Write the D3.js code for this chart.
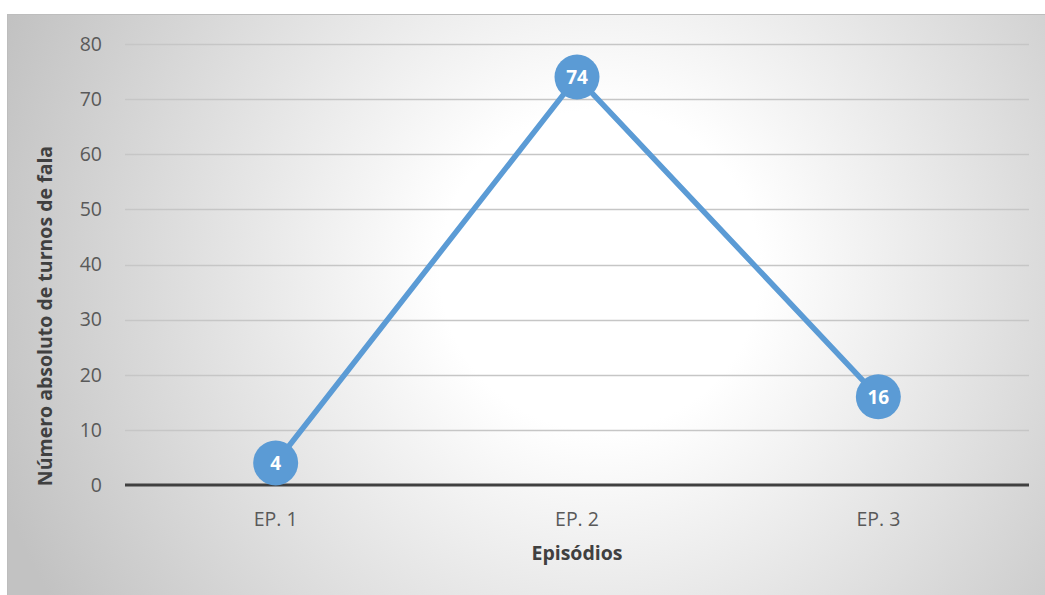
<!DOCTYPE html>
<html><head><meta charset="utf-8">
<script src="https://cdn.jsdelivr.net/npm/d3@7"></script>
<style>html,body{margin:0;padding:0;background:#fff;}svg{display:block;}</style>
</head><body>
<script>
const categories = ["EP. 1", "EP. 2", "EP. 3"];
const values = [4, 74, 16];
const yTicks = [0, 10, 20, 30, 40, 50, 60, 70, 80];
const xTitle = "Episódios";
const yTitle = "Número absoluto de turnos de fala";

(function () {
const W = 1045, H = 595;
const svg = d3.select("body").append("svg").attr("width", W).attr("height", H);
const defs = svg.append("defs");
const rg = defs.append("radialGradient").attr("id", "bg")
  .attr("gradientUnits", "userSpaceOnUse")
  .attr("cx", 600).attr("cy", 270).attr("r", 640);
rg.append("stop").attr("offset", "0%").attr("stop-color", "#ffffff");
rg.append("stop").attr("offset", "25%").attr("stop-color", "#ffffff");
rg.append("stop").attr("offset", "100%").attr("stop-color", "#c2c2c2");

svg.append("rect").attr("x", 7).attr("y", 14).attr("width", W - 7).attr("height", H - 14)
  .attr("fill", "url(#bg)");
svg.append("line").attr("x1", 7).attr("x2", W).attr("y1", 14.5).attr("y2", 14.5)
  .attr("stroke", "#bdbdbd").attr("stroke-width", 1);
svg.append("line").attr("x1", 7.5).attr("x2", 7.5).attr("y1", 14).attr("y2", H)
  .attr("stroke", "#bdbdbd").attr("stroke-width", 1);

const pl = 125, pr = 1029, pt = 44, pb = 485;
const x = d3.scaleBand().domain(categories).range([pl, pr]);
const y = d3.scaleLinear().domain([0, 80]).range([pb, pt]);

const font = "'Open Sans', 'Liberation Sans', sans-serif";

// gridlines
svg.append("g").selectAll("line").data(yTicks.filter(d => d !== 0)).join("line")
  .attr("x1", pl).attr("x2", pr)
  .attr("y1", d => Math.round(y(d)) + 0.5).attr("y2", d => Math.round(y(d)) + 0.5)
  .attr("stroke", "#c6c6c6").attr("stroke-width", 1.3);

// y axis labels
const yAxis = d3.axisLeft(y).tickValues(yTicks).tickSize(0).tickPadding(0).tickFormat(d3.format("d"));
const gy = svg.append("g").attr("transform", `translate(${pl - 23},0)`).call(yAxis);
gy.select(".domain").remove();
gy.selectAll("text").attr("font-family", font).attr("font-size", 19.5).attr("fill", "#595959");

// zero line
svg.append("line").attr("x1", pl).attr("x2", pr).attr("y1", y(0)).attr("y2", y(0))
  .attr("stroke", "#404040").attr("stroke-width", 3);

// x axis labels
const xAxis = d3.axisBottom(x).tickSize(0).tickPadding(0);
const gx = svg.append("g").attr("transform", `translate(0,${pb + 41})`).call(xAxis);
gx.select(".domain").remove();
gx.selectAll("text").attr("dy", 0).attr("font-family", font).attr("font-size", 19.5).attr("fill", "#595959");

// titles
svg.append("text").attr("x", (pl + pr) / 2).attr("y", 560).attr("text-anchor", "middle")
  .attr("font-family", font).attr("font-size", 19.5).attr("font-weight", "bold").attr("fill", "#404040")
  .text(xTitle);
svg.append("text").attr("transform", `translate(52,316) rotate(-90)`)
  .attr("text-anchor", "middle")
  .attr("font-family", font).attr("font-size", 19.5).attr("font-weight", "bold").attr("fill", "#404040")
  .text(yTitle);

// line
const cx = d => x(d) + x.bandwidth() / 2;
const line = d3.line().x((d, i) => cx(categories[i])).y(d => y(d));
svg.append("path").datum(values).attr("d", line).attr("fill", "none")
  .attr("stroke", "#5b9bd5").attr("stroke-width", 5.5).attr("stroke-linejoin", "round");

// markers
const pts = svg.append("g").selectAll("g").data(values).join("g")
  .attr("transform", (d, i) => `translate(${cx(categories[i])},${y(d)})`);
pts.append("circle").attr("r", 22.5).attr("fill", "#5b9bd5");
pts.append("text").attr("text-anchor", "middle").attr("dy", "0.36em")
  .attr("font-family", font).attr("font-size", 19).attr("font-weight", "bold").attr("fill", "#ffffff")
  .text(d => d);
})();
</script>
</body></html>
